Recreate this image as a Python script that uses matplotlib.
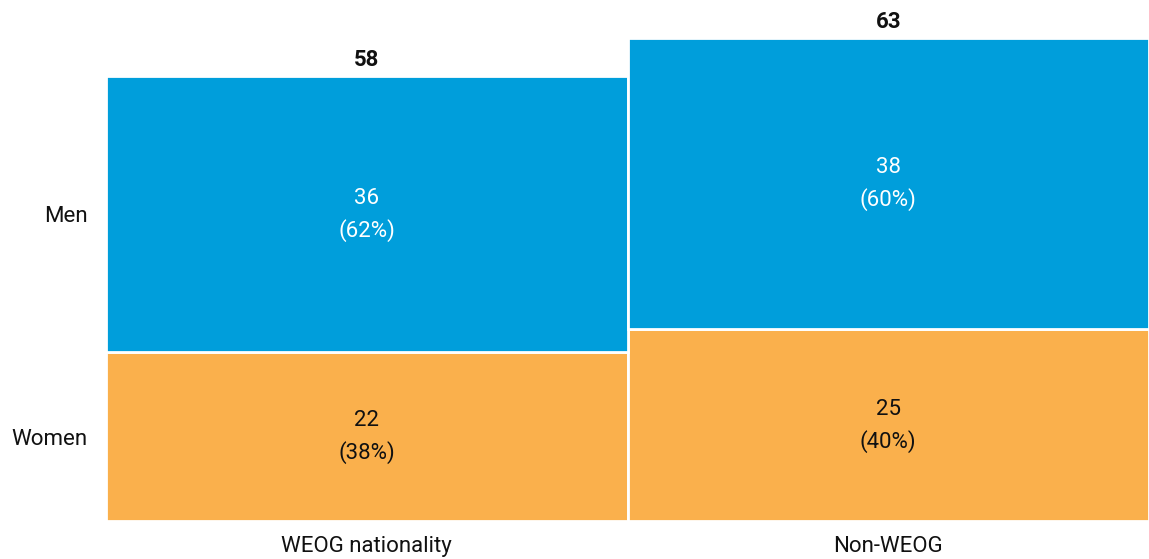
import matplotlib
matplotlib.use("Agg")
import matplotlib.pyplot as plt

categories = ["WEOG nationality", "Non-WEOG"]
women = [22, 25]
men = [36, 38]
women_pct = [38, 40]
men_pct = [62, 60]
row_labels = ["Women", "Men"]

BLUE = "#009EDB"
ORANGE = "#FAB04C"
DARK = "#111111"

plt.rcParams['font.family'] = ['Roboto', 'DejaVu Sans']

fig = plt.figure(figsize=(11.49, 5.59), dpi=100)
ax = fig.add_axes([106/1149, 38/559, 1 - 106/1149, 1 - 38/559])

x = list(range(len(categories)))
ax.bar(x, women, width=1.0, color=ORANGE, edgecolor="white", linewidth=2)
ax.bar(x, men, width=1.0, bottom=women, color=BLUE, edgecolor="white", linewidth=2)

fs = 16
off = 11.5  # points from segment centre to each line
for i in x:
    cw = women[i] / 2
    cm = women[i] + men[i] / 2
    for cy, val, pct, col in [(cw, women[i], women_pct[i], DARK), (cm, men[i], men_pct[i], "white")]:
        ax.annotate(f"{val}", (i, cy), xytext=(0, off), textcoords="offset points",
                    ha="center", va="center", fontsize=fs, color=col)
        ax.annotate(f"({pct}%)", (i, cy), xytext=(0, -off), textcoords="offset points",
                    ha="center", va="center", fontsize=fs, color=col)
    ax.annotate(f"{women[i] + men[i]}", (i, women[i] + men[i]), xytext=(0, 11.5),
                textcoords="offset points", ha="center", va="center",
                fontsize=fs, fontweight="bold", color=DARK)

ax.set_xlim(-0.5, 1.5)
ax.set_ylim(0, 521 / (483 / 63))
ax.set_xticks(x)
ax.set_xticklabels(categories, fontsize=fs, color=DARK)
ax.set_yticks([women[0] / 2, women[0] + men[0] / 2])
ax.set_yticklabels(row_labels, fontsize=fs, color=DARK)
ax.tick_params(axis="y", length=0, pad=13)
ax.tick_params(axis="x", length=0, pad=11)
for s in ax.spines.values():
    s.set_visible(False)

fig.savefig("out.png", dpi=100)
